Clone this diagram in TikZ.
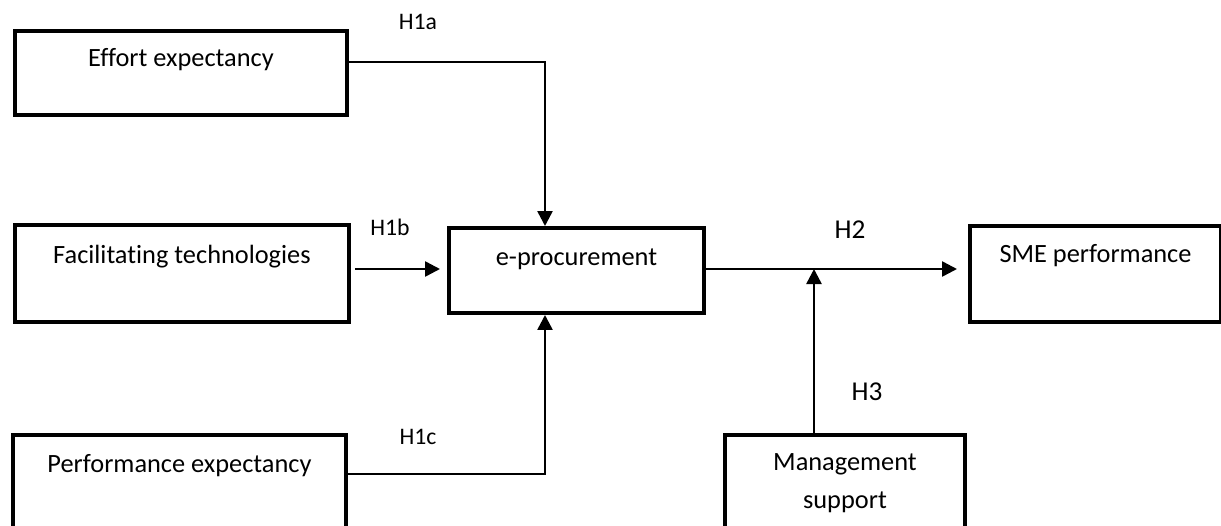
\documentclass[tikz,border=0pt]{standalone}
\usepackage{fontspec}
\setmainfont[Ligatures=NoCommon]{Carlito}
\usetikzlibrary{arrows.meta}
\tikzset{
  box/.style    = {rectangle, draw=black, line width=0.08cm, anchor=north west,
                   inner xsep=0pt, inner ysep=0pt,
                   font=\fontsize{15}{21.6}\selectfont},
  hyp/.style    = {inner sep=0pt, font=\fontsize{13.5}{16}\selectfont},
  hypbig/.style = {inner sep=0pt, font=\fontsize{15.5}{18}\selectfont},
  arr/.style    = {-{Triangle[length=0.3cm, width=0.3cm]}, line width=0.05cm},
}

\begin{document}
\begin{tikzpicture}[x=0.02cm, y=-0.02cm]
\useasboundingbox (0,0) rectangle (1221,525);

% routing points
\coordinate (row)   at (0,269);
\coordinate (bendA) at (545,62);
\coordinate (bendC) at (545,474);
\coordinate (mod)   at (814,269);

% Predictors
\node[box, minimum width=6.64cm, text height=0.72cm, text depth=0.96cm] (effort) at (13,29) {Effort expectancy};
\node[box, minimum width=6.68cm, text height=0.78cm, text depth=1.16cm] (facil) at (13,223) {Facilitating technologies};
\node[box, minimum width=6.66cm, text height=0.74cm, text depth=2.0cm] (perf) at (11,433) {Performance expectancy};

% Mediator and outcome
\node[box, minimum width=5.1cm, text height=0.76cm, text depth=0.94cm] (eproc) at (447,226) {e-procurement};
\node[box, minimum width=5.02cm, text height=0.72cm, text depth=1.2cm] (sme) at (968,224) {SME performance};

% Moderator
\node[box, minimum width=4.8cm, minimum height=1.92cm, align=center] (mgmt) at (723,433) {Management\\support};

% Paths
\draw[arr] (effort.east |- bendA) -| (eproc.north -| bendA);
\draw[arr, shorten <=0.08cm, shorten >=0.14cm] (facil.east |- row) -- (eproc.west |- row);
\draw[arr] (perf.east |- bendC) -| (eproc.south -| bendC);
\draw[arr, shorten >=0.22cm] (eproc.east |- row) -- (sme.west |- row);
\draw[arr] (mgmt.north -| mod) -- (mod);

% Hypotheses
\node[hyp] (h1a) at (418,22) {H1a};
\node[hyp] (h1b) at (390,227) {H1b};
\node[hyp] (h1c) at (418,437) {H1c};
\node[hypbig] (h2) at (850,230) {H2};
\node[hypbig] (h3) at (867,392) {H3};

\end{tikzpicture}
\end{document}
